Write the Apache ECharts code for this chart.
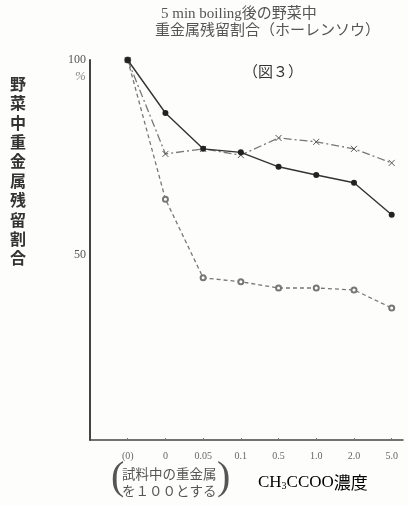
<!DOCTYPE html>
<html><head><meta charset="utf-8">
<script src="https://cdn.jsdelivr.net/npm/echarts@6/dist/echarts.min.js"></script>
<style>html,body{margin:0;padding:0;background:#fdfdfb}#c{width:408px;height:505px}</style>
</head><body><div id="c"></div>
<script>
// categories (CH3COOH concentration)
const categories = ['(0)', '0', '0.05', '0.1', '0.5', '1.0', '2.0', '5.0'];
// series values (% residual)
const solidDots = [100, 86.4, 77.2, 76.3, 72.6, 70.5, 68.5, 60.3];
const crossDashDot = [100, 75.9, 77.2, 75.6, 80.0, 79.0, 77.2, 73.6];
const circleDashed = [100, 64.3, 44.1, 43.1, 41.5, 41.5, 41.0, 36.4];
const yTickLabels = [50, 100];

const serif = "'Liberation Serif','DejaVu Serif','Noto Sans CJK JP'";
const jp = "'Noto Sans CJK JP'";
const pair = arr => arr.map((v, i) => [i, v]);

const chart = echarts.init(document.getElementById('c'));
chart.setOption({
  backgroundColor: '#fdfdfb',
  animation: false,
  grid: { left: 90, right: 5, top: 60, bottom: 65, containLabel: false },
  xAxis: {
    type: 'value', min: -1, max: 7.3, interval: 1,
    splitLine: { show: false },
    axisLine: { show: true, onZero: false, lineStyle: { color: '#444', width: 1.5 } },
    axisTick: { show: true, length: 2, inside: true, lineStyle: { color: '#777' } },
    axisLabel: {
      margin: 11, color: '#666', fontSize: 10, fontFamily: serif,
      showMinLabel: false, showMaxLabel: false,
      formatter: v => (Number.isInteger(v) && v >= 0 && v < categories.length) ? categories[v] : ''
    }
  },
  yAxis: {
    type: 'value', min: 2.5, max: 100, interval: 2.5,
    splitLine: { show: false },
    axisLine: { show: true, onZero: false, lineStyle: { color: '#444', width: 2 } },
    axisTick: { show: false },
    axisLabel: {
      margin: 4, color: '#555', fontSize: 12, fontFamily: serif,
      formatter: v => yTickLabels.includes(v) ? String(v) : ''
    }
  },
  series: [
    {
      type: 'line', data: pair(circleDashed), symbol: 'emptyCircle', symbolSize: 5,
      lineStyle: { color: '#777', width: 1.3, type: [4, 3] },
      itemStyle: { color: '#777', borderColor: '#777', borderWidth: 1 }, z: 2
    },
    {
      type: 'line', data: pair(crossDashDot),
      symbol: 'path://M0,0L10,10M10,0L0,10', symbolSize: 6, symbolKeepAspect: true,
      lineStyle: { color: '#777', width: 1.3, type: [8, 3, 2, 3] },
      itemStyle: { color: 'none', borderColor: '#555', borderWidth: 1 }, z: 3
    },
    {
      type: 'line', data: pair(solidDots), symbol: 'circle', symbolSize: 6,
      lineStyle: { color: '#333', width: 1.4 },
      itemStyle: { color: '#222' }, z: 4
    }
  ],
  graphic: [
    { type: 'text', left: 161, top: 7, style: { text: '5 min boiling後の野菜中', font: '15px ' + serif, fill: '#555' } },
    { type: 'text', left: 155, top: 24, style: { text: '重金属残留割合（ホーレンソウ）', font: '15px ' + serif, fill: '#555' } },
    { type: 'text', left: 243, top: 64, style: { text: '（図３）', font: '15px ' + jp, fill: '#333' } },
    { type: 'text', left: 75, top: 70, style: { text: '%', font: 'italic 13px ' + serif, fill: '#888' } },
    { type: 'text', left: 10, top: 74, style: { text: '野\n菜\n中\n重\n金\n属\n残\n留\n割\n合', font: 'bold 16px ' + jp, fill: '#333', lineHeight: 19.4 } },
    { type: 'text', left: 111, top: 458, style: { text: '(', font: '40px ' + serif, fill: '#555' } },
    { type: 'text', left: 122, top: 465, style: { text: '試料中の重金属\nを１００とする', font: '13.5px ' + jp, fill: '#555', lineHeight: 17 } },
    { type: 'text', left: 217, top: 458, style: { text: ')', font: '40px ' + serif, fill: '#555' } },
    { type: 'text', left: 258, top: 474, style: {
        text: '{a|CH}{s|3}{a|CCOO}{b|濃度}',
        rich: {
          a: { fontSize: 17, fontFamily: serif, color: '#444' },
          s: { fontSize: 10, fontFamily: serif, color: '#444', padding: [8, 0, 0, 0] },
          b: { fontSize: 17, fontFamily: jp, color: '#444' }
        }
      } }
  ]
});
</script>
</body></html>
